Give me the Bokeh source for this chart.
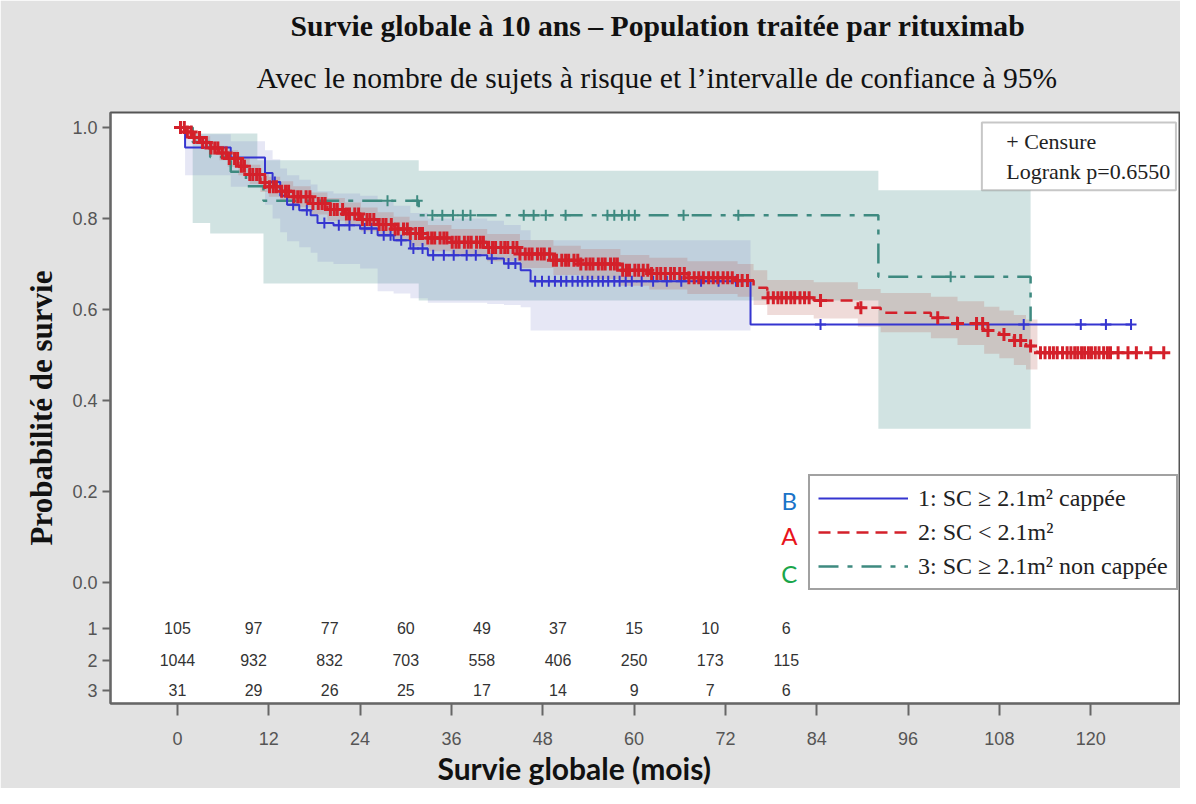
import numpy as np
from bokeh.plotting import figure
from bokeh.models import (Range1d, FixedTicker, Legend, LegendItem, Label,
                          BoxAnnotation, Title, NumeralTickFormatter)
from bokeh.core.properties import value
from bokeh.embed import file_html
from bokeh.resources import INLINE

# ---------------- data ----------------
# Group 1 : SC >= 2.1 m² cappée (blue, solid)
g1_time = [0, 1, 7, 11.5, 12.5, 13.5, 14.4, 16, 17.5, 18.4, 20.5, 24, 26.3, 28.4,
           30.6, 32.9, 40.7, 42.9, 45.1, 46.4, 75.3, 125.3]
g1_surv = [1.0, 0.956, 0.934, 0.90, 0.88, 0.85, 0.83, 0.818, 0.807, 0.79, 0.785,
           0.778, 0.763, 0.752, 0.734, 0.719, 0.712, 0.701, 0.686, 0.662, 0.567, 0.567]
g1_ci_time = [0, 1, 7, 11.5, 12.5, 13.5, 14.4, 16, 17.5, 18.4, 20.5, 24, 26.3, 28.4,
              30.6, 32.9, 40.7, 42.9, 45.1, 46.4, 75.3]
g1_ci_lo = [1.0, 0.895, 0.87, 0.83, 0.80, 0.77, 0.75, 0.737, 0.725, 0.705, 0.70, 0.69,
            0.64, 0.635, 0.625, 0.615, 0.612, 0.61, 0.605, 0.554, 0.554]
g1_ci_hi = [1.0, 0.985, 0.97, 0.95, 0.93, 0.91, 0.895, 0.885, 0.875, 0.86, 0.855, 0.85,
            0.838, 0.828, 0.812, 0.80, 0.795, 0.786, 0.774, 0.752, 0.752]
g1_cens = [12.8, 15.2, 17.0, 19.3, 21.2, 22.6, 24.6, 25.5, 27.1, 28.0, 29.4, 31.0, 32.2,
           33.6, 35.0, 36.3, 38.0, 39.2, 41.3, 43.5, 44.4, 47.0, 47.9, 48.8, 49.6, 50.4,
           51.1, 51.9, 52.6, 53.2, 53.9, 54.5, 55.3, 55.9, 56.6, 57.4, 58.1, 58.9, 59.7,
           61.0, 62.5, 64.3, 66.2, 68.8, 71.1, 73.4, 84.5, 111.2, 118.7, 122.0, 125.3]

# Group 2 : SC < 2.1 m² (red, dashed)
g2_time = [0, 1, 2, 3, 4.3, 5.5, 6.6, 8, 9.5, 10.9, 12, 13.5, 15.2, 17.5, 19.7, 22,
           24.1, 26.3, 28.4, 30.5, 32.9, 36, 40.7, 45, 49.4, 53, 58.2, 62, 67, 73.6,
           75.7, 77.5, 83.6, 89.4, 92.4, 99, 102.5, 106, 108, 109.9, 111.5, 113, 129.6]
g2_surv = [1.0, 0.99, 0.978, 0.967, 0.955, 0.944, 0.932, 0.915, 0.897, 0.879, 0.87,
           0.86, 0.848, 0.833, 0.82, 0.81, 0.798, 0.787, 0.777, 0.767, 0.757, 0.748,
           0.736, 0.722, 0.708, 0.70, 0.686, 0.679, 0.670, 0.664, 0.648, 0.626, 0.62,
           0.604, 0.593, 0.582, 0.569, 0.554, 0.545, 0.532, 0.52, 0.505, 0.505]
g2_ci_time = [0, 1, 2, 3, 4.3, 5.5, 6.6, 8, 9.5, 10.9, 12, 13.5, 15.2, 17.5, 19.7, 22,
              24.1, 26.3, 28.4, 30.5, 32.9, 36, 40.7, 45, 49.4, 53, 58.2, 62, 67, 73.6,
              75.7, 77.5, 83.6, 89.4, 92.4, 99, 102.5, 106, 108, 109.9, 111.5, 113]
g2_ci_hi = [1.0, 0.998, 0.99, 0.981, 0.97, 0.96, 0.95, 0.935, 0.918, 0.9, 0.892, 0.882,
            0.871, 0.857, 0.845, 0.835, 0.824, 0.814, 0.804, 0.795, 0.786, 0.777, 0.766,
            0.753, 0.74, 0.733, 0.72, 0.714, 0.706, 0.70, 0.686, 0.665, 0.66, 0.645,
            0.636, 0.628, 0.618, 0.606, 0.598, 0.588, 0.578, 0.552]
g2_ci_lo = [1.0, 0.982, 0.966, 0.953, 0.94, 0.928, 0.914, 0.895, 0.876, 0.858, 0.848,
            0.838, 0.825, 0.809, 0.795, 0.785, 0.772, 0.76, 0.75, 0.739, 0.728, 0.719,
            0.706, 0.691, 0.676, 0.667, 0.652, 0.644, 0.634, 0.628, 0.61, 0.588, 0.58,
            0.562, 0.55, 0.537, 0.522, 0.503, 0.493, 0.478, 0.468, 0.468]
g2_cens = [0.4, 0.9, 1.3, 1.8, 2.2, 2.9, 3.3, 3.8, 4.4, 4.9, 5.3, 5.9, 6.4, 6.8, 7.5, 7.9,
           8.4, 8.8, 9.5, 9.9, 10.4, 10.8, 11.5, 12.1, 12.6, 13.0, 13.7, 14.2, 14.6, 15.3,
           15.8, 16.2, 16.9, 17.4, 17.8, 18.5, 19.0, 19.4, 20.1, 20.6, 21.0, 21.7, 22.2,
           22.6, 23.3, 23.8, 24.3, 24.9, 25.3, 25.8, 26.5, 27.0, 27.4, 28.1, 28.6, 29.0,
           29.7, 30.2, 30.6, 31.3, 31.8, 32.2, 32.9, 33.4, 33.8, 34.5, 35.0, 35.4, 36.1,
           36.6, 37.0, 37.7, 38.2, 38.6, 39.3, 39.8, 40.2, 40.9, 41.4, 41.8, 42.5, 43.0,
           43.4, 44.1, 44.6, 45.0, 45.7, 46.2, 46.6, 47.3, 47.8, 48.2, 48.9, 49.4, 49.8,
           50.5, 51.0, 51.4, 52.1, 52.6, 53.0, 53.7, 54.2, 54.6, 55.3, 55.8, 56.2, 56.9,
           57.4, 57.8, 58.5, 59.0, 59.4, 60.1, 60.6, 61.2, 61.8, 62.3, 63.0, 63.5, 64.1,
           64.8, 65.3, 66.0, 66.6, 67.2, 67.9, 68.5, 69.1, 69.8, 70.4, 71.0, 71.7, 72.3,
           72.9, 73.6, 74.2, 74.9, 77.6, 78.3, 78.9, 79.4, 80.0, 80.6, 81.1, 81.8, 82.4,
           83.0, 84.5, 89.8, 99.9, 102.5, 105.0, 105.8, 106.5, 108.6, 110.0, 110.8,
           112.1, 113.4, 114.0, 114.6, 115.1, 115.6, 116.3, 116.9, 117.4, 117.9, 118.3,
           118.8, 119.2, 119.7, 120.1, 120.6, 121.1, 121.7, 122.2, 122.6, 123.6, 124.9,
           126.0, 127.9, 129.6]

# Group 3 : SC >= 2.1 m² non cappée (teal, dash-dot)
g3_time = [0, 2, 4.3, 7, 9, 11.3, 31.7, 92.1, 112.1]
g3_surv = [1.0, 0.968, 0.935, 0.903, 0.871, 0.839, 0.807, 0.672, 0.574]
g3_ci_time = [0, 2, 4.3, 10.5, 11.3, 31.7, 92.1, 112.1]
g3_ci_lo = [1.0, 0.79, 0.767, 0.767, 0.657, 0.62, 0.338, 0.338]
g3_ci_hi = [1.0, 0.987, 0.987, 0.928, 0.928, 0.905, 0.862, 0.862]
g3_cens = [27.6, 31.5, 33.5, 34.8, 36.2, 37.5, 38.5, 45.5, 46.8, 48.4, 51.0, 56.5, 57.4,
           58.4, 59.3, 60.1, 66.5, 73.7, 101.6]

# Number at risk
risk_times = [0, 10, 20, 30, 40, 50, 60, 70, 80]
risk_g1 = [105, 97, 77, 60, 49, 37, 15, 10, 6]
risk_g2 = [1044, 932, 832, 703, 558, 406, 250, 173, 115]
risk_g3 = [31, 29, 26, 25, 17, 14, 9, 7, 6]
risk_rows = ["1", "2", "3"]

x_ticks = [0, 12, 24, 36, 48, 60, 72, 84, 96, 108, 120]
y_ticks = [0.0, 0.2, 0.4, 0.6, 0.8, 1.0]

legend_labels = ["1: SC \u2265 2.1m\u00b2 cappée", "2: SC < 2.1m\u00b2",
                 "3: SC \u2265 2.1m\u00b2 non cappée"]
letters = ["B", "A", "C"]

# ---------------- styling ----------------
BLUE = "#3535d0"
RED = "#d4202a"
TEAL = "#3e8a80"
SERIF = "Liberation Serif"
SANS = "Liberation Sans"
ROW_Y = [-0.101, -0.171, -0.237]

p = figure(width=1180, height=788, x_range=Range1d(-8.8, 131.8),
           y_range=Range1d(-0.266, 1.033), output_backend="svg",
           toolbar_location=None, title=None,
           min_border_left=110, min_border_right=0, min_border_top=112,
           min_border_bottom=85, background_fill_color="white",
           border_fill_color="#e2e2e2")
p.outline_line_color = "#555555"
p.outline_line_width = 2
p.xgrid.visible = False
p.ygrid.visible = False


def area(t, lo, hi, color, alpha):
    if hasattr(p, "varea_step"):
        p.varea_step(x=t, y1=lo, y2=hi, step_mode="after", fill_color=color,
                     fill_alpha=alpha)
    else:
        p.quad(left=t[:-1], right=t[1:], bottom=lo[:-1], top=hi[:-1],
               fill_color=color, fill_alpha=alpha, line_color=None)


area(g3_ci_time, g3_ci_lo, g3_ci_hi, "#5b9a96", 0.28)
area(g1_ci_time, g1_ci_lo, g1_ci_hi, "#7a80c8", 0.19)
area(g2_ci_time, g2_ci_lo, g2_ci_hi, "#b85a50", 0.22)

r3 = p.step(g3_time, g3_surv, mode="after", line_color=TEAL, line_width=2.5,
            line_dash="20 9 5 9")
r1 = p.step(g1_time, g1_surv, mode="after", line_color=BLUE, line_width=2)
r2 = p.step(g2_time, g2_surv, mode="after", line_color=RED, line_width=2.5,
            line_dash="12 7")


def at(times, surv, t):
    times = np.asarray(times)
    idx = np.searchsorted(times, np.asarray(t), side="right") - 1
    return np.asarray(surv)[idx]


p.scatter(g3_cens, at(g3_time, g3_surv, g3_cens), marker="cross", size=11,
          line_color=TEAL, line_width=2)
p.scatter(g1_cens, at(g1_time, g1_surv, g1_cens), marker="cross", size=11,
          line_color=BLUE, line_width=2)
p.scatter(g2_cens, at(g2_time, g2_surv, g2_cens), marker="cross", size=13,
          line_color=RED, line_width=3)

# number-at-risk table
for row_y, vals in zip(ROW_Y, [risk_g1, risk_g2, risk_g3]):
    p.text(x=risk_times, y=[row_y] * len(vals), text=[str(v) for v in vals],
           text_align="center", text_baseline="middle", text_font=value(SANS),
           text_font_size="16px", text_color="#333333")

# axes
p.xaxis.ticker = FixedTicker(ticks=x_ticks)
p.yaxis.ticker = FixedTicker(ticks=ROW_Y + y_ticks)
p.yaxis.formatter = NumeralTickFormatter(format="0.0")
p.yaxis.major_label_overrides = {ry: lab for ry, lab in zip(ROW_Y, risk_rows)}
for ax in (p.xaxis, p.yaxis):
    ax.axis_line_color = "#666666"
    ax.axis_line_width = 2
    ax.major_tick_line_color = "#666666"
    ax.major_tick_line_width = 2
    ax.minor_tick_line_color = None
    ax.major_tick_in = 0
    ax.major_label_text_font = SANS
    ax.major_label_text_color = "#555555"
p.xaxis.major_tick_out = 12
p.xaxis.major_label_standoff = 16
p.xaxis.major_label_text_font_size = "18px"
p.yaxis.major_tick_out = 8
p.yaxis.major_label_standoff = 5
p.yaxis.major_label_text_font_size = "18px"
p.yaxis.axis_label = "Probabilité de survie"
p.yaxis.axis_label_text_font = SERIF
p.yaxis.axis_label_text_font_style = "bold"
p.yaxis.axis_label_text_font_size = "31px"
p.yaxis.axis_label_text_color = "#111111"
p.yaxis.axis_label_standoff = 10

# titles
p.add_layout(Title(text="Avec le nombre de sujets à risque et l\u2019intervalle de confiance à 95%",
                   text_font=SERIF, text_font_size="29.5px", text_font_style="normal",
                   text_color="#111111", align="left", offset=146, standoff=37), "above")
p.add_layout(Title(text="Survie globale à 10 ans \u2013 Population traitée par rituximab",
                   text_font=SERIF, text_font_size="29.7px", text_font_style="bold",
                   text_color="#111111", align="left", offset=180, standoff=0), "above")
p.add_layout(Title(text="Survie globale (mois)", text_font="Lato",
                   text_font_size="30px", text_font_style="bold", text_color="#111111",
                   align="left", offset=327, standoff=1), "below")

# legend
legend = Legend(items=[LegendItem(label=legend_labels[0], renderers=[r1]),
                       LegendItem(label=legend_labels[1], renderers=[r2]),
                       LegendItem(label=legend_labels[2], renderers=[r3])],
                location=(698, 113), orientation="vertical",
                label_text_font=SERIF, label_text_font_size="24px",
                label_text_color="#222222", glyph_width=90, glyph_height=28,
                label_standoff=10, spacing=6, padding=8, margin=0,
                border_line_color="#444444", border_line_width=2,
                background_fill_color="white", background_fill_alpha=1)
p.add_layout(legend)

for letter, col, yy in zip(letters, ["#1a73c8", "#e8141c", "#1aa64a"],
                           [0.18, 0.103, 0.02]):
    p.add_layout(Label(x=80.4, y=yy, text=letter, text_align="center",
                       text_baseline="middle", text_font="Lato",
                       text_font_size="24px", text_color=col))

# censor / logrank box
p.add_layout(BoxAnnotation(left=105.7, right=131.2, top=1.011, bottom=0.862,
                           fill_color="white", fill_alpha=1, line_color="#444444",
                           line_width=2))
p.add_layout(Label(x=108.9, y=0.969, text="+ Censure", text_baseline="middle",
                   text_font=SERIF, text_font_size="22px", text_color="#222222"))
p.add_layout(Label(x=108.9, y=0.903, text="Logrank p=0.6550", text_baseline="middle",
                   text_font=SERIF, text_font_size="22px", text_color="#222222"))

open("out.html", "w").write(file_html(p, INLINE))
